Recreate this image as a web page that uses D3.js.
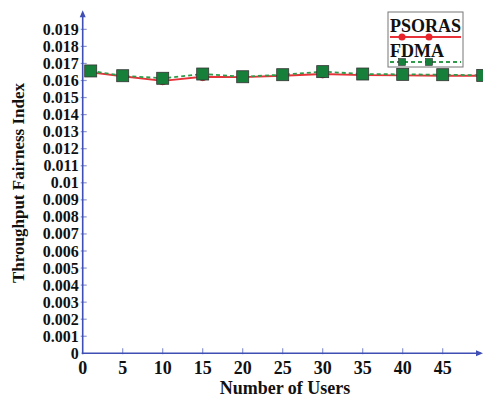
<!DOCTYPE html>
<html>
<head>
<meta charset="utf-8">
<script src="https://cdn.jsdelivr.net/npm/d3@7"></script>
<style>
  body { margin: 0; background: #fff; }
  text { font-family: "Liberation Serif", "Times New Roman", serif; font-weight: bold; fill: #111; }
</style>
</head>
<body>
<div id="chart"></div>
<script>
// data
var users = [1, 5, 10, 15, 20, 25, 30, 35, 40, 45, 50];
var psoras = [0.01648, 0.01625, 0.01598, 0.01622, 0.01620, 0.01628, 0.01638, 0.01632, 0.01630, 0.01628, 0.01628];
var fdma = [0.01656, 0.01628, 0.01613, 0.01638, 0.01622, 0.01634, 0.01652, 0.01638, 0.01636, 0.01634, 0.01630];
var xTicks = [0, 5, 10, 15, 20, 25, 30, 35, 40, 45];
var yTicks = d3.range(0, 20).map(function(i) { return i / 1000; });
var yLabels = ['0', '0.001', '0.002', '0.003', '0.004', '0.005', '0.006', '0.007', '0.008', '0.009',
  '0.01', '0.011', '0.012', '0.013', '0.014', '0.015', '0.016', '0.017', '0.018', '0.019'];

var w = 483, h = 398;
var axisColor = '#3f4fb3';

var svg = d3.select('#chart').append('svg')
  .attr('width', w).attr('height', h);

var x = d3.scaleLinear().domain([0, 50]).range([82.7, 482.7]);
var y = d3.scaleLinear().domain([0, 0.02]).range([353.3, 12.3]);

// y axis
var yAxis = svg.append('g');
yAxis.selectAll('.ytick')
  .data(yTicks.slice(1))
  .enter().append('line')
  .attr('x1', x(0) - 2).attr('x2', x(0) + 4)
  .attr('y1', function(d) { return y(d); }).attr('y2', function(d) { return y(d); })
  .attr('stroke', '#8c97d3').attr('stroke-width', 1.2);
yAxis.selectAll('.ylab')
  .data(yTicks)
  .enter().append('text')
  .attr('x', x(0) - 4)
  .attr('y', function(d) { return y(d) + 5.5; })
  .attr('text-anchor', 'end')
  .style('font-size', '16px')
  .text(function(d, i) { return yLabels[i]; });

// x axis
var xAxis = svg.append('g');
xAxis.selectAll('.xtick')
  .data(xTicks.slice(1))
  .enter().append('line')
  .attr('x1', function(d) { return x(d); }).attr('x2', function(d) { return x(d); })
  .attr('y1', y(0) + 1).attr('y2', y(0) - 5)
  .attr('stroke', '#8c97d3').attr('stroke-width', 1.2);
xAxis.selectAll('.xlab')
  .data(xTicks)
  .enter().append('text')
  .attr('x', function(d) { return x(d); })
  .attr('y', 374)
  .attr('text-anchor', 'middle')
  .style('font-size', '18px')
  .text(function(d) { return d; });

svg.append('line')
  .attr('x1', x(0)).attr('x2', x(0))
  .attr('y1', y(0) + 1).attr('y2', y(0.02) + 2)
  .attr('stroke', axisColor).attr('stroke-width', 1.6);
svg.append('path')
  .attr('d', 'M' + (x(0) - 3) + ',' + (y(0.02) + 5) + 'L' + x(0) + ',' + (y(0.02) - 2) + 'L' + (x(0) + 3) + ',' + (y(0.02) + 5) + 'Z')
  .attr('fill', axisColor);
svg.append('line')
  .attr('x1', x(0) - 1).attr('x2', w - 2)
  .attr('y1', y(0)).attr('y2', y(0))
  .attr('stroke', axisColor).attr('stroke-width', 1.6);
svg.append('path')
  .attr('d', 'M' + (w - 7) + ',' + (y(0) - 3) + 'L' + w + ',' + y(0) + 'L' + (w - 7) + ',' + (y(0) + 3) + 'Z')
  .attr('fill', axisColor);

// axis titles
svg.append('text')
  .attr('transform', 'translate(24,' + 183 + ') rotate(-90)')
  .attr('text-anchor', 'middle')
  .style('font-size', '17px')
  .text('Throughput Fairness Index');
svg.append('text')
  .attr('x', 285).attr('y', 394)
  .attr('text-anchor', 'middle')
  .style('font-size', '18px')
  .text('Number of Users');

// series
var line = d3.line()
  .x(function(d) { return x(d[0]); })
  .y(function(d) { return y(d[1]); });

var redPts = users.map(function(u, i) { return [u, psoras[i]]; });
var greenPts = users.map(function(u, i) { return [u, fdma[i]]; });

svg.append('path')
  .datum(redPts)
  .attr('d', line)
  .attr('fill', 'none').attr('stroke', '#e8323a').attr('stroke-width', 1.8);
svg.selectAll('.rdot')
  .data(redPts)
  .enter().append('circle')
  .attr('cx', function(d) { return x(d[0]); })
  .attr('cy', function(d) { return y(d[1]); })
  .attr('r', 4).attr('fill', '#e8232a').attr('stroke', '#a01010').attr('stroke-width', 0.6);

svg.append('path')
  .datum(greenPts)
  .attr('d', line)
  .attr('fill', 'none').attr('stroke', '#2e9a4a').attr('stroke-width', 1.8)
  .attr('stroke-dasharray', '4,3');
svg.selectAll('.gsq')
  .data(greenPts)
  .enter().append('rect')
  .attr('x', function(d) { return x(d[0]) - 6; })
  .attr('y', function(d) { return y(d[1]) - 6; })
  .attr('width', 12).attr('height', 12)
  .attr('fill', '#16803a').attr('stroke', '#333').attr('stroke-width', 0.8);

// legend
var lg = svg.append('g');
lg.append('rect')
  .attr('x', 388).attr('y', 12).attr('width', 75).attr('height', 55)
  .attr('fill', '#fff').attr('stroke', '#777').attr('stroke-width', 1);
lg.append('text').attr('x', 390).attr('y', 32).style('font-size', '18px').text('PSORAS');
lg.append('line').attr('x1', 390).attr('x2', 461).attr('y1', 37).attr('y2', 37)
  .attr('stroke', '#e8323a').attr('stroke-width', 1.8);
[402, 429].forEach(function(cx) {
  lg.append('circle').attr('cx', cx).attr('cy', 37).attr('r', 3.5).attr('fill', '#e8232a');
});
lg.append('text').attr('x', 390).attr('y', 57).style('font-size', '18px').text('FDMA');
lg.append('line').attr('x1', 390).attr('x2', 461).attr('y1', 62).attr('y2', 62)
  .attr('stroke', '#2e9a4a').attr('stroke-width', 1.8).attr('stroke-dasharray', '4,3');
[402, 429].forEach(function(cx) {
  lg.append('rect').attr('x', cx - 3.5).attr('y', 58.5).attr('width', 7).attr('height', 7)
    .attr('fill', '#16803a').attr('stroke', '#333').attr('stroke-width', 0.6);
});
</script>
</body>
</html>
